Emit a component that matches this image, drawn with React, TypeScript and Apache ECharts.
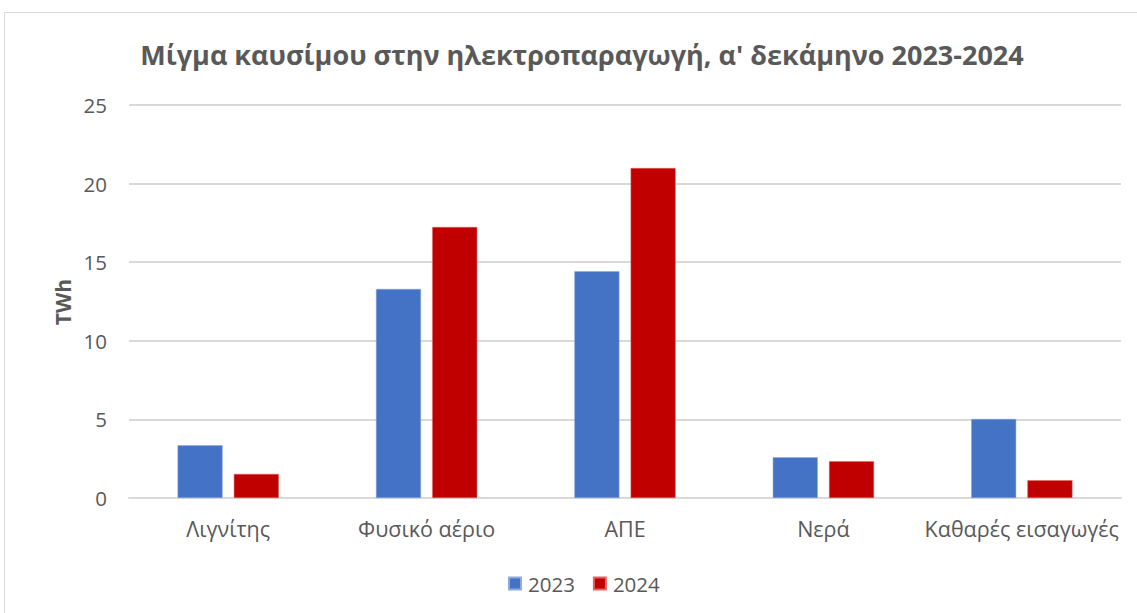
import React, { useEffect, useRef } from "react";
import * as echarts from "echarts";

const categories = ["Λιγνίτης", "Φυσικό αέριο", "ΑΠΕ", "Νερά", "Καθαρές εισαγωγές"];
const values2023 = [3.35, 13.3, 14.43, 2.59, 5.03];
const values2024 = [1.53, 17.24, 20.99, 2.34, 1.13];
const seriesNames = ["2023", "2024"];
const titleText = "Μίγμα καυσίμου στην ηλεκτροπαραγωγή, α' δεκάμηνο 2023-2024";
const yAxisName = "TWh";

const FONT = "'Open Sans', sans-serif";
const GRAY = "#595959";

export default function App() {
  const ref = useRef<HTMLDivElement>(null);
  useEffect(() => {
    if (!ref.current) return;
    const chart = echarts.init(ref.current, undefined, { renderer: "svg" });
    chart.setOption({
      animation: false,
      backgroundColor: "#ffffff",
      textStyle: { fontFamily: FONT },
      title: {
        text: titleText,
        left: 577,
        textAlign: "center",
        top: 36,
        textStyle: { fontFamily: FONT, fontSize: 27, fontWeight: "bold", color: GRAY },
      },
      graphic: [
        {
          type: "rect",
          shape: { x: 4.5, y: 12.5, width: 1200, height: 700 },
          style: { fill: "none", stroke: "#d9d9d9", lineWidth: 1 },
          silent: true,
        },
        {
          type: "text",
          x: 63,
          y: 302,
          rotation: Math.PI / 2,
          style: {
            text: yAxisName,
            fontFamily: FONT,
            fontSize: 21,
            fontWeight: "bold",
            fill: GRAY,
            align: "center",
            verticalAlign: "middle",
          },
        },
      ],
      legend: {
        data: seriesNames,
        top: 568,
        left: 503,
        itemWidth: 12,
        itemHeight: 12,
        itemGap: 18,
        icon: "rect",
        textStyle: { fontFamily: FONT, fontSize: 20.5, color: GRAY, padding: [0, 0, 0, 2] },
      },
      grid: { left: 129, right: 16, top: 105, bottom: 115, containLabel: false },
      xAxis: {
        type: "category",
        data: categories,
        axisLine: { show: true, lineStyle: { color: "#d9d9d9", width: 2 } },
        axisTick: { show: false },
        axisLabel: { fontFamily: FONT, fontSize: 21.5, color: GRAY, margin: 19, interval: 0, hideOverlap: false },
      },
      yAxis: {
        type: "value",
        min: 0,
        max: 25,
        interval: 5,
        axisLine: { show: false },
        axisTick: { show: false },
        axisLabel: { fontFamily: FONT, fontSize: 20.5, color: GRAY, margin: 22 },
        splitLine: { lineStyle: { color: "#d9d9d9", width: 2 } },
      },
      series: [
        {
          name: seriesNames[0],
          type: "bar",
          data: values2023,
          barWidth: 45,
          barGap: "25%",
          itemStyle: { color: "#4472C4", borderColor: "#8eaadc", borderWidth: 0.5 },
        },
        {
          name: seriesNames[1],
          type: "bar",
          data: values2024,
          barWidth: 45,
          itemStyle: { color: "#C00000", borderColor: "#e06666", borderWidth: 0.5 },
        },
      ],
    });
    return () => chart.dispose();
  }, []);
  return (
    <div
      ref={ref}
      style={{ position: "fixed", left: 0, top: 0, width: 1137, height: 613 }}
    />
  );
}
